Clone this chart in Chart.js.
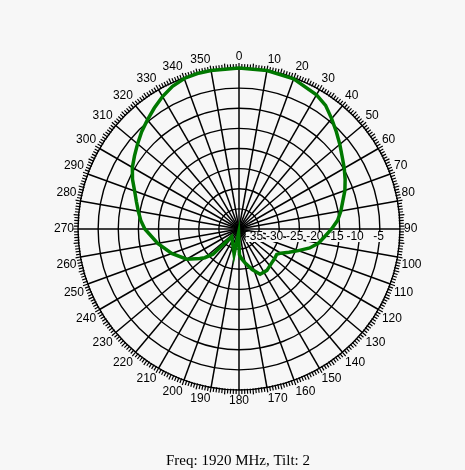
<!DOCTYPE html>
<html>
<head>
<meta charset="utf-8">
<title>Antenna pattern</title>
<script src="https://cdn.jsdelivr.net/npm/chart.js@4/dist/chart.umd.min.js"></script>
<style>
  html, body { margin: 0; padding: 0; background: #f7f7f7; }
  canvas { display: block; }
</style>
</head>
<body>
<canvas id="pattern" width="465" height="470"></canvas>
<script>
var azimuth = [0, 10, 20, 30, 35, 40, 45, 50, 55, 60, 65, 70, 75, 80, 85,
               90, 95, 100, 105, 110, 115, 120, 124, 130, 136, 146, 155, 162, 170, 175,
               179, 186, 191, 224, 226, 230, 233, 240, 250, 260, 270, 275, 280, 285, 290,
               295, 300, 305, 310, 315, 320, 325, 330, 335, 340, 345, 350];
var gainDb  = [0, 0, -0.3, -1.5, -2.5, -4.2, -5.8, -7.3, -8.7, -9.8, -10.9, -12.0, -13.3, -14.3, -15.4,
               -17.0, -18.6, -19.9, -21.8, -24.3, -26.3, -28.0, -28.7, -28.5, -28.3, -27.6, -27.6, -29.4, -31.5, -32.6,
               -33.6, -39.0, -33.6, -37.4, -31.0, -28.9, -27.8, -25.0, -22.2, -19.5, -16.6, -15.5, -14.6, -13.6, -12.4,
               -10.8, -9.4, -8.3, -7.1, -5.8, -4.6, -3.3, -2.0, -0.9, -0.2, 0, 0];

var ringLabels = [-35, -30, -25, -20, -15, -10, -5];
var titleText = 'Freq: 1920 MHz, Tilt: 2';
var bg = '#f7f7f7';

// one category per degree, readings dropped on their own degree
var degrees = [];
var series = [];
for (var d = 0; d < 360; d++) { degrees.push(d); series.push(null); }
azimuth.forEach(function(a, i) { series[a] = gainDb[i]; });

// outer tick marks + dB labels on the 90 deg spoke
var polarDecor = {
    id: 'polarDecor',
    beforeDatasetsDraw: function(chart) {
        var s = chart.scales.r, ctx = chart.ctx;
        ctx.save();
        ctx.strokeStyle = '#000';
        ctx.lineWidth = 1.2;
        ctx.beginPath();
        for (var i = 0; i < degrees.length; i++) {
            var a = s.getPointPosition(i, s.drawingArea - 1);
            var b = s.getPointPosition(i, s.drawingArea + (i % 5 === 0 ? 5 : 4));
            ctx.moveTo(a.x, a.y);
            ctx.lineTo(b.x, b.y);
        }
        ctx.stroke();

        ctx.font = '12px "Liberation Sans", Arial, sans-serif';
        ctx.textAlign = 'right';
        ctx.textBaseline = 'middle';
        ringLabels.forEach(function(v) {
            var p = s.getPointPositionForValue(90, v);
            var txt = String(v);
            var w = ctx.measureText(txt).width;
            ctx.fillStyle = bg;
            ctx.fillRect(p.x + 4 - w, p.y + 3, w, 10);
            ctx.fillStyle = '#000';
            ctx.fillText(txt, p.x + 4, p.y + 8);
        });
        ctx.restore();
    }
};

new Chart(document.getElementById('pattern'), {
    type: 'radar',
    data: {
        labels: degrees,
        datasets: [{
            data: series,
            borderColor: '#007800',
            borderWidth: 3.5,
            fill: false,
            tension: 0,
            pointRadius: 0,
            spanGaps: true
        }]
    },
    options: {
        responsive: false,
        animation: false,
        layout: { padding: { left: 53, right: 42, top: 44, bottom: 0 } },
        plugins: {
            legend: { display: false },
            tooltip: { enabled: false },
            title: {
                display: true,
                text: titleText,
                position: 'bottom',
                color: '#000',
                font: { family: '"Liberation Serif", "Times New Roman", serif', size: 15, weight: 'normal' },
                padding: { top: 38, bottom: 0 }
            }
        },
        scales: {
            r: {
                min: -40,
                max: 0,
                ticks: { display: false, stepSize: 5 },
                grid: { circular: true, color: '#000', lineWidth: 1.4 },
                angleLines: {
                    color: '#000',
                    lineWidth: function(c) { return c.index % 10 === 0 ? 1.5 : 0; }
                },
                pointLabels: {
                    color: '#000',
                    padding: 4,
                    font: { family: '"Liberation Sans", Arial, sans-serif', size: 12 },
                    callback: function(label, i) { return i % 10 === 0 ? String(label) : ''; }
                }
            }
        }
    },
    plugins: [polarDecor]
});
</script>
</body>
</html>
